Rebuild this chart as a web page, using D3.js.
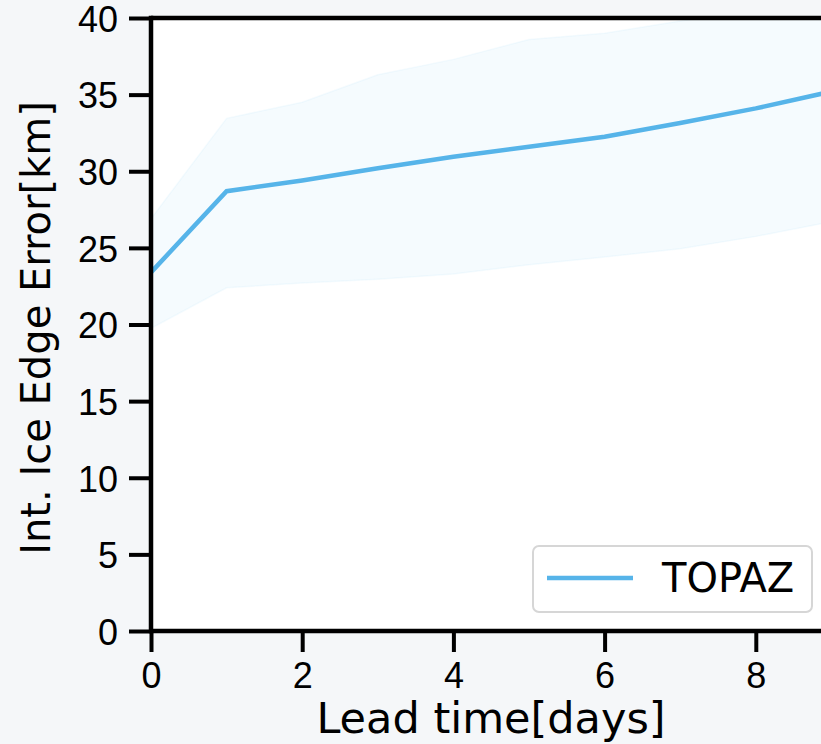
<!DOCTYPE html>
<html>
<head>
<meta charset="utf-8">
<script src="https://cdn.jsdelivr.net/npm/d3@7"></script>
<style>
  body { margin: 0; background: #f5f7f9; }
  svg { display: block; font-family: "DejaVu Sans", sans-serif; }
</style>
</head>
<body>
<div id="chart"></div>
<script>
// lead time in days
const leadDays = [0, 1, 2, 3, 4, 5, 6, 7, 8, 9];
// mean integrated ice edge error (km)
const topazMean = [23.4, 28.7, 29.4, 30.2, 30.95, 31.6, 32.25, 33.15, 34.1, 35.2];
// spread band
const topazUpper = [26.9, 33.45, 34.5, 36.3, 37.3, 38.6, 39.0, 39.8, 40.5, 41.0];
const topazLower = [19.75, 22.4, 22.7, 22.95, 23.3, 23.9, 24.4, 24.95, 25.75, 26.7];
const yTicks = [0, 5, 10, 15, 20, 25, 30, 35, 40];
const xTicks = [0, 2, 4, 6, 8];
const seriesName = "TOPAZ";

function drawChart() {
  let W = 821, H = 744;
  let margin = { top: 18, left: 151, bottom: 113 };
  let plotH = H - margin.top - margin.bottom;

  let svg = d3.select("#chart").append("svg")
      .attr("width", W)
      .attr("height", H);

  svg.append("rect").attr("width", W).attr("height", H).attr("fill", "#f5f7f9");

  // x scale runs past the right edge, the figure is cropped there
  let x = d3.scaleLinear().domain([0, 10]).range([margin.left, margin.left + 756]);
  let y = d3.scaleLinear().domain([0, 40]).range([margin.top + plotH, margin.top]);

  svg.append("rect")
      .attr("x", margin.left).attr("y", margin.top)
      .attr("width", W - margin.left + 20).attr("height", plotH)
      .attr("fill", "#ffffff");

  svg.append("clipPath").attr("id", "clip")
    .append("rect")
      .attr("x", margin.left).attr("y", margin.top)
      .attr("width", W).attr("height", plotH);

  let rows = leadDays.map((d, i) => ({ d: d, m: topazMean[i], lo: topazLower[i], hi: topazUpper[i] }));

  let plot = svg.append("g").attr("clip-path", "url(#clip)");

  plot.append("path")
      .datum(rows)
      .attr("fill", "#56b4e9")
      .attr("fill-opacity", 0.06)
      .attr("stroke", "#56b4e9")
      .attr("stroke-opacity", 0.06)
      .attr("stroke-width", 1.5)
      .attr("d", d3.area().x(r => x(r.d)).y0(r => y(r.lo)).y1(r => y(r.hi)));

  plot.append("path")
      .datum(rows)
      .attr("fill", "none")
      .attr("stroke", "#56b4e9")
      .attr("stroke-width", 4.5)
      .attr("d", d3.line().x(r => x(r.d)).y(r => y(r.m)));

  // axes
  let xAxis = svg.append("g")
      .attr("transform", `translate(0, ${margin.top + plotH})`)
      .call(d3.axisBottom(x).tickValues(xTicks).tickSize(21).tickPadding(10).tickFormat(d3.format("d")));
  let yAxis = svg.append("g")
      .attr("transform", `translate(${margin.left}, 0)`)
      .call(d3.axisLeft(y).tickValues(yTicks).tickSize(22).tickPadding(11).tickFormat(d3.format("d")));

  [xAxis, yAxis].forEach(g => {
    g.select(".domain").remove();
    g.selectAll(".tick line").attr("stroke", "#000").attr("stroke-width", 4);
    g.selectAll(".tick text").attr("fill", "#000").style("font-size", "36px");
  });
  yAxis.selectAll(".tick text").attr("dy", "0.37em");

  // spines
  svg.append("line")
      .attr("x1", margin.left).attr("x2", W)
      .attr("y1", margin.top + plotH).attr("y2", margin.top + plotH)
      .attr("stroke", "#000").attr("stroke-width", 4.5);
  svg.append("line")
      .attr("x1", margin.left).attr("x2", W)
      .attr("y1", margin.top).attr("y2", margin.top)
      .attr("stroke", "#000").attr("stroke-width", 4.5);
  svg.append("line")
      .attr("x1", margin.left).attr("x2", margin.left)
      .attr("y1", margin.top - 2.25).attr("y2", margin.top + plotH + 2.25)
      .attr("stroke", "#000").attr("stroke-width", 4.5);

  // axis titles
  svg.append("text")
      .attr("x", 491).attr("y", 733)
      .attr("text-anchor", "middle")
      .style("font-size", "43px")
      .text("Lead time[days]");
  svg.append("text")
      .attr("transform", "translate(50, 328) rotate(-90)")
      .attr("text-anchor", "middle")
      .style("font-size", "40px")
      .text("Int. Ice Edge Error[km]");

  // legend
  let leg = svg.append("g");
  leg.append("rect")
      .attr("x", 533).attr("y", 546).attr("width", 279).attr("height", 66)
      .attr("rx", 6)
      .attr("fill", "#fff").attr("stroke", "#d6d6d6").attr("stroke-width", 2);
  leg.append("line")
      .attr("x1", 547).attr("x2", 633).attr("y1", 578).attr("y2", 578)
      .attr("stroke", "#56b4e9").attr("stroke-width", 4.5);
  leg.append("text")
      .attr("x", 662).attr("y", 592)
      .style("font-size", "40px")
      .text(seriesName);
}

drawChart();
</script>
</body>
</html>
